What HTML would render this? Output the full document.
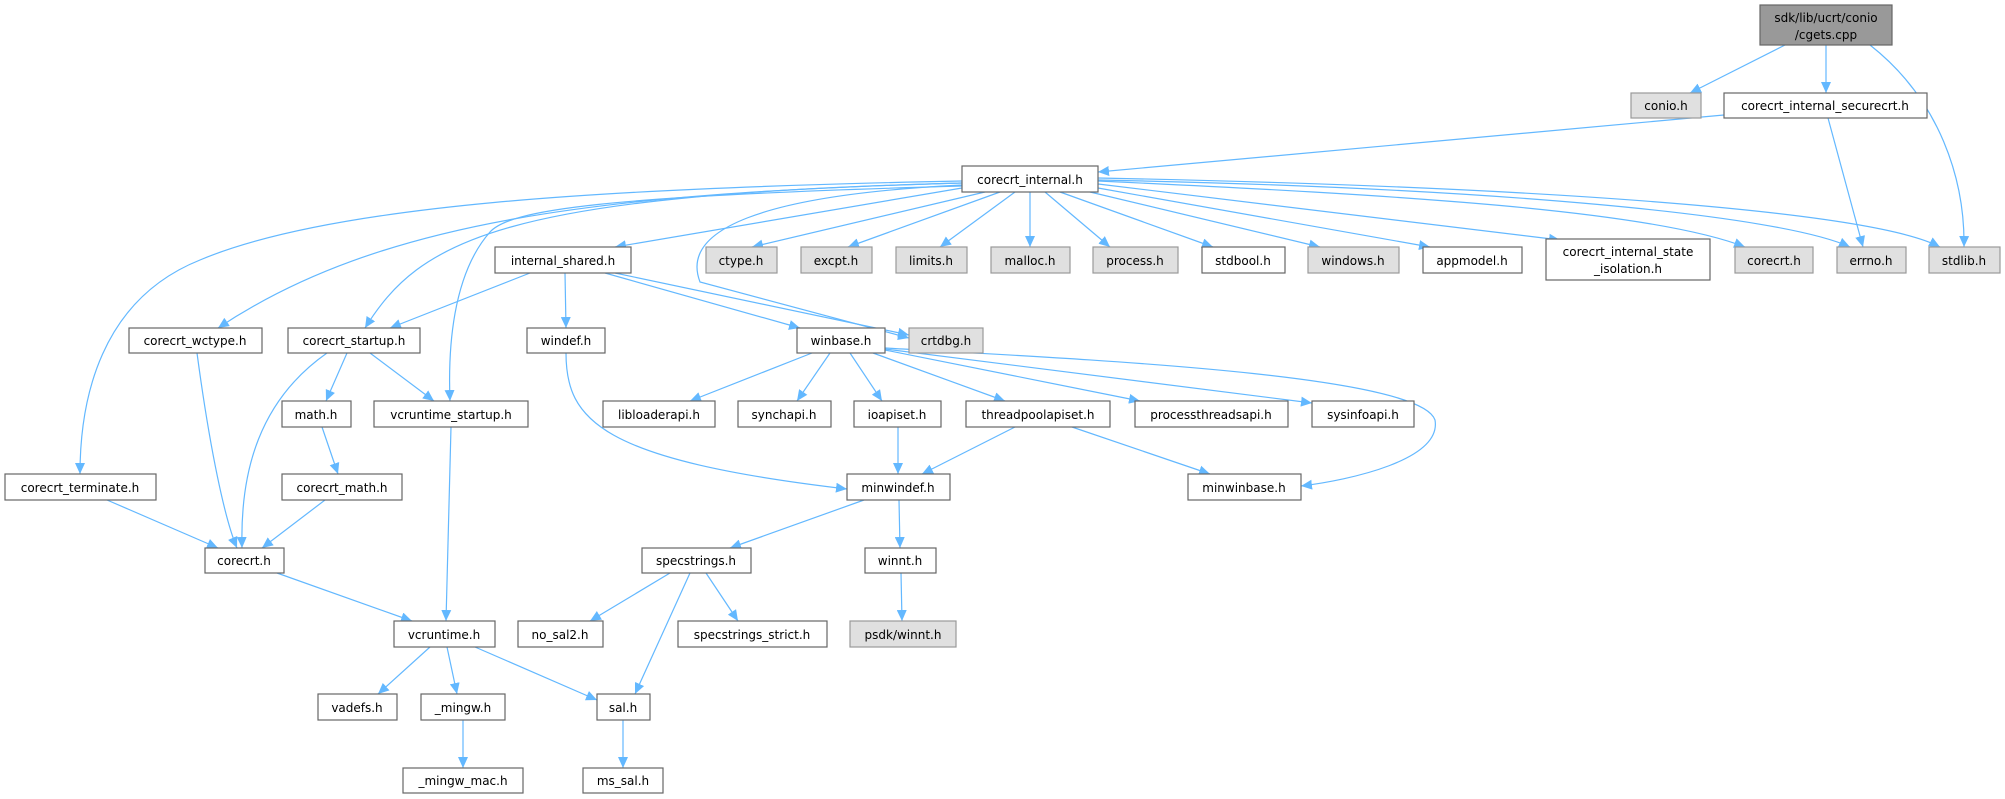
<!DOCTYPE html>
<html><head><meta charset="utf-8"><style>
html,body{margin:0;padding:0;background:#fff;}
svg{display:block;}
text{font-family:"DejaVu Sans","Liberation Sans",sans-serif;font-size:12px;fill:#000;}
.w{fill:#fff;stroke:#666;stroke-width:1.2}
.g{fill:#e0e0e0;stroke:#999;stroke-width:1.2}
.r{fill:#999;stroke:#666;stroke-width:1.2}
.e{fill:none;stroke:#63b8ff;stroke-width:1.2}
</style></head><body>
<svg width="2005" height="799" viewBox="0 0 2005 799" xmlns="http://www.w3.org/2000/svg">
<defs><marker id="a" markerUnits="userSpaceOnUse" markerWidth="12" markerHeight="10" refX="11" refY="5" orient="auto"><path d="M0,0 L11,5 L0,10 z" fill="#63b8ff"/></marker></defs>
<g class="e" marker-end="url(#a)">
<path d="M1785,45 L1690,93"/>
<path d="M1826,45 L1826,93"/>
<path d="M1870,45 C1940,100 1965,180 1964,247"/>
<path d="M1724,115 L1098,172"/>
<path d="M1828,118 L1863,247"/>
<path d="M985,192 L752,247"/>
<path d="M1000,192 L848,247"/>
<path d="M1015,192 L940,247"/>
<path d="M1030,192 L1030,247"/>
<path d="M1045,192 L1110,247"/>
<path d="M1060,192 L1213,247"/>
<path d="M1090,192 L1320,247"/>
<path d="M1098,188 L1430,247"/>
<path d="M1098,184 L1560,240"/>
<path d="M1098,181 C1400,195 1650,210 1745,247"/>
<path d="M1098,180 C1500,188 1780,215 1850,247"/>
<path d="M1098,178 C1600,188 1880,215 1940,247"/>
<path d="M962,188 L615,247"/>
<path d="M962,185 C760,195 680,230 700,282 L909,338"/>
<path d="M962,183 C500,195 420,240 365,328"/>
<path d="M962,186 C600,196 510,210 490,232 C452,275 448,350 450,401"/>
<path d="M962,183 C600,193 380,220 218,328"/>
<path d="M962,181 C600,188 330,205 200,260 C100,300 80,400 80,474"/>
<path d="M530,273 L390,328"/>
<path d="M565,273 L566,328"/>
<path d="M605,273 L800,328"/>
<path d="M615,273 L909,335"/>
<path d="M197,353 C210,450 225,520 237,548"/>
<path d="M327,353 C260,400 240,470 242,548"/>
<path d="M347,353 L326,401"/>
<path d="M370,353 L434,401"/>
<path d="M322,427 L338,474"/>
<path d="M451,427 L446,621"/>
<path d="M107,500 L218,548"/>
<path d="M325,500 L262,548"/>
<path d="M277,573 L412,621"/>
<path d="M566,353 C566,420 600,460 847,489"/>
<path d="M812,353 L690,401"/>
<path d="M830,353 L797,401"/>
<path d="M850,353 L882,401"/>
<path d="M873,353 L1005,401"/>
<path d="M885,350 L1140,401"/>
<path d="M885,349 L1312,403"/>
<path d="M885,348 C1100,360 1420,375 1435,420 C1442,460 1350,480 1301,486"/>
<path d="M898,427 L898,474"/>
<path d="M1015,427 L922,474"/>
<path d="M1072,427 L1210,474"/>
<path d="M864,500 L730,548"/>
<path d="M899,500 L900,548"/>
<path d="M901,573 L902,621"/>
<path d="M670,573 L590,621"/>
<path d="M690,573 L635,694"/>
<path d="M706,573 L738,621"/>
<path d="M430,647 L378,694"/>
<path d="M447,647 L457,694"/>
<path d="M475,647 L597,700"/>
<path d="M463,720 L463,768"/>
<path d="M623,720 L623,768"/>
</g>
<g text-anchor="middle">
<rect class="r" x="1760" y="5" width="132" height="40"/><text x="1826" y="22">sdk/lib/ucrt/conio</text><text x="1826" y="39">/cgets.cpp</text>
<rect class="g" x="1631" y="93" width="70" height="25"/><text x="1666" y="110">conio.h</text>
<rect class="w" x="1724" y="93" width="203" height="25"/><text x="1825" y="110">corecrt_internal_securecrt.h</text>
<rect class="w" x="962" y="166" width="136" height="26"/><text x="1030" y="184">corecrt_internal.h</text>
<rect class="w" x="495" y="247" width="136" height="26"/><text x="563" y="265">internal_shared.h</text>
<rect class="g" x="706" y="247" width="71" height="26"/><text x="741" y="265">ctype.h</text>
<rect class="g" x="801" y="247" width="71" height="26"/><text x="836" y="265">excpt.h</text>
<rect class="g" x="896" y="247" width="71" height="26"/><text x="931" y="265">limits.h</text>
<rect class="g" x="991" y="247" width="79" height="26"/><text x="1030" y="265">malloc.h</text>
<rect class="g" x="1093" y="247" width="85" height="26"/><text x="1135" y="265">process.h</text>
<rect class="w" x="1202" y="247" width="83" height="26"/><text x="1243" y="265">stdbool.h</text>
<rect class="g" x="1308" y="247" width="91" height="26"/><text x="1353" y="265">windows.h</text>
<rect class="w" x="1423" y="247" width="99" height="26"/><text x="1472" y="265">appmodel.h</text>
<rect class="w" x="1546" y="239" width="164" height="41"/><text x="1628" y="256">corecrt_internal_state</text><text x="1628" y="273">_isolation.h</text>
<rect class="g" x="1735" y="247" width="78" height="26"/><text x="1774" y="265">corecrt.h</text>
<rect class="g" x="1837" y="247" width="69" height="26"/><text x="1871" y="265">errno.h</text>
<rect class="g" x="1929" y="247" width="71" height="26"/><text x="1964" y="265">stdlib.h</text>
<rect class="w" x="129" y="328" width="133" height="25"/><text x="195" y="345">corecrt_wctype.h</text>
<rect class="w" x="288" y="328" width="132" height="25"/><text x="354" y="345">corecrt_startup.h</text>
<rect class="w" x="527" y="328" width="78" height="25"/><text x="566" y="345">windef.h</text>
<rect class="w" x="797" y="328" width="88" height="25"/><text x="841" y="345">winbase.h</text>
<rect class="g" x="909" y="328" width="74" height="25"/><text x="946" y="345">crtdbg.h</text>
<rect class="w" x="282" y="401" width="69" height="26"/><text x="316" y="419">math.h</text>
<rect class="w" x="374" y="401" width="154" height="26"/><text x="451" y="419">vcruntime_startup.h</text>
<rect class="w" x="603" y="401" width="112" height="26"/><text x="659" y="419">libloaderapi.h</text>
<rect class="w" x="738" y="401" width="93" height="26"/><text x="784" y="419">synchapi.h</text>
<rect class="w" x="854" y="401" width="87" height="26"/><text x="897" y="419">ioapiset.h</text>
<rect class="w" x="966" y="401" width="144" height="26"/><text x="1038" y="419">threadpoolapiset.h</text>
<rect class="w" x="1135" y="401" width="153" height="26"/><text x="1211" y="419">processthreadsapi.h</text>
<rect class="w" x="1312" y="401" width="102" height="26"/><text x="1363" y="419">sysinfoapi.h</text>
<rect class="w" x="5" y="474" width="151" height="26"/><text x="80" y="492">corecrt_terminate.h</text>
<rect class="w" x="282" y="474" width="120" height="26"/><text x="342" y="492">corecrt_math.h</text>
<rect class="w" x="847" y="474" width="103" height="26"/><text x="898" y="492">minwindef.h</text>
<rect class="w" x="1188" y="474" width="113" height="26"/><text x="1244" y="492">minwinbase.h</text>
<rect class="w" x="205" y="548" width="79" height="25"/><text x="244" y="565">corecrt.h</text>
<rect class="w" x="642" y="548" width="109" height="25"/><text x="696" y="565">specstrings.h</text>
<rect class="w" x="865" y="548" width="71" height="25"/><text x="900" y="565">winnt.h</text>
<rect class="w" x="394" y="621" width="101" height="26"/><text x="444" y="639">vcruntime.h</text>
<rect class="w" x="518" y="621" width="85" height="26"/><text x="560" y="639">no_sal2.h</text>
<rect class="w" x="678" y="621" width="149" height="26"/><text x="752" y="639">specstrings_strict.h</text>
<rect class="g" x="850" y="621" width="106" height="26"/><text x="903" y="639">psdk/winnt.h</text>
<rect class="w" x="318" y="694" width="79" height="26"/><text x="357" y="712">vadefs.h</text>
<rect class="w" x="421" y="694" width="84" height="26"/><text x="463" y="712">_mingw.h</text>
<rect class="w" x="597" y="694" width="53" height="26"/><text x="623" y="712">sal.h</text>
<rect class="w" x="403" y="768" width="120" height="25"/><text x="463" y="785">_mingw_mac.h</text>
<rect class="w" x="583" y="768" width="80" height="25"/><text x="623" y="785">ms_sal.h</text>
</g>
</svg>
</body></html>
